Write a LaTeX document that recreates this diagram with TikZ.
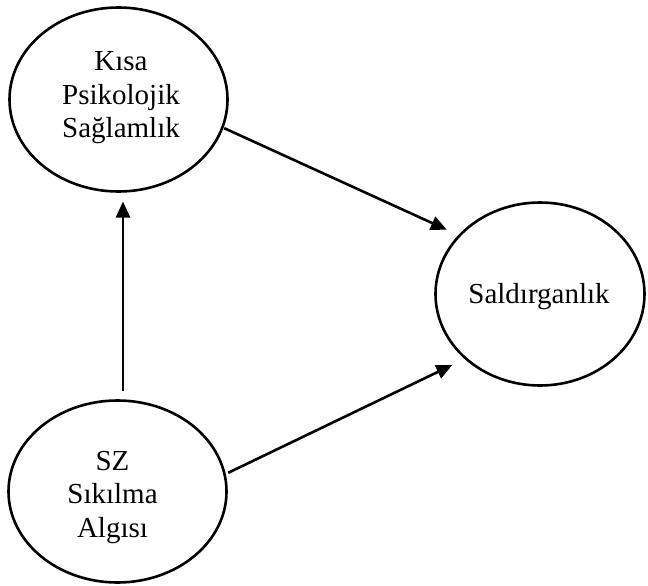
\documentclass[tikz,border=0pt]{standalone}
\usepackage{fontspec}
\setmainfont{Liberation Serif}
\usetikzlibrary{shapes.geometric,arrows.meta}
\tikzset{
  ell/.style={ellipse, draw, line width=2.6pt, inner sep=0pt, outer sep=0pt},
  lab/.style={align=center, inner sep=0pt, font=\fontsize{29}{33.5}\selectfont},
  arr/.style={line width=2.6pt, -{Triangle[length=16pt,width=14pt]}}
}
\begin{document}
\begin{tikzpicture}[x=1pt,y=-1pt]
\useasboundingbox (0,0) rectangle (648,586);
% ellipses
\node[ell, minimum width=218pt, minimum height=184pt] (ka) at (118.5,99.5) {};
\node[ell, minimum width=209pt, minimum height=183pt] (sal) at (540,294) {};
\node[ell, minimum width=218pt, minimum height=182pt] (sz) at (117.5,491.5) {};
% texts
\node[lab] (kat) at (121,97.8) {Kısa\\Psikolojik\\Sağlamlık};
\node[lab] (salt) at (539,296.2) {Saldırganlık};
\node[lab] (szt) at (112.5,497.4) {SZ\\Sıkılma\\Algısı};
% arrows
\draw[arr, shorten <=2pt, shorten >=14pt] (ka.-15) -- (sal.144);
\draw[arr, shorten <=4pt, shorten >=15pt] (sz.9) -- (sal.-139);
\draw[arr, shorten <=10pt, shorten >=10pt] ([xshift=5.5pt]sz.north) -- ([xshift=4.5pt]ka.south);
\end{tikzpicture}
\end{document}
